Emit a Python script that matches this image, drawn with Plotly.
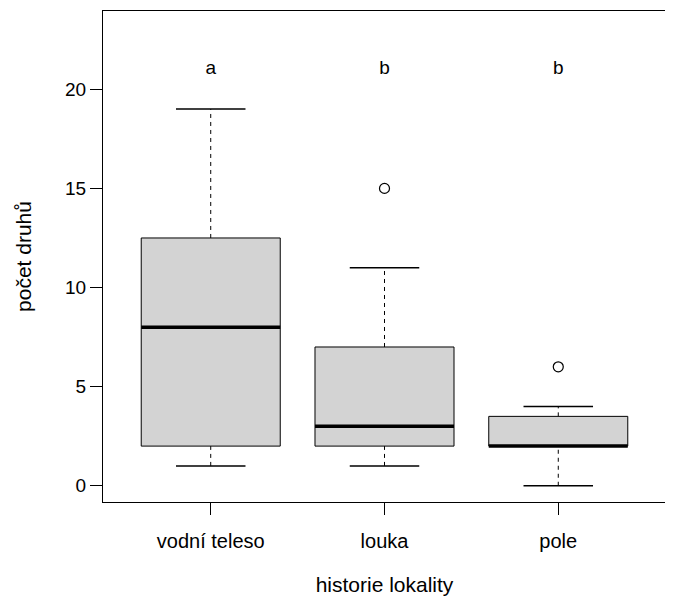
import plotly.graph_objects as go

categories = ["vodní teleso", "louka", "pole"]
lower_whisker = [1, 1, 0]
q1 = [2, 2, 2]
median = [8, 3, 2]
q3 = [12.5, 7, 3.5]
upper_whisker = [19, 11, 4]
outlier_group = [2, 3]
outlier_value = [15, 6]
letters = ["a", "b", "b"]
letter_y = [21, 21, 21]

BOX_HALF = 0.4
CAP_HALF = 0.2
FONT = "Liberation Sans, Arial, sans-serif"

fig = go.Figure()
positions = [1, 2, 3]

for i, p in enumerate(positions):
    # dashed whiskers
    fig.add_trace(go.Scatter(x=[p, p, None, p, p],
                             y=[q3[i], upper_whisker[i], None, lower_whisker[i], q1[i]],
                             mode="lines", line=dict(color="black", width=1, dash="4px,4px"),
                             hoverinfo="skip", showlegend=False))
    # caps
    fig.add_trace(go.Scatter(x=[p - CAP_HALF, p + CAP_HALF, None, p - CAP_HALF, p + CAP_HALF],
                             y=[upper_whisker[i], upper_whisker[i], None, lower_whisker[i], lower_whisker[i]],
                             mode="lines", line=dict(color="black", width=1.5),
                             hoverinfo="skip", showlegend=False))
    # box
    fig.add_trace(go.Scatter(x=[p - BOX_HALF, p + BOX_HALF, p + BOX_HALF, p - BOX_HALF, p - BOX_HALF],
                             y=[q1[i], q1[i], q3[i], q3[i], q1[i]],
                             mode="lines", fill="toself", fillcolor="#D3D3D3",
                             line=dict(color="black", width=1),
                             hoverinfo="skip", showlegend=False))
    # median
    fig.add_trace(go.Scatter(x=[p - BOX_HALF, p + BOX_HALF], y=[median[i], median[i]],
                             mode="lines", line=dict(color="black", width=3.5),
                             hoverinfo="skip", showlegend=False))

fig.add_trace(go.Scatter(x=outlier_group, y=outlier_value, mode="markers",
                         marker=dict(symbol="circle-open", size=10, color="black", line=dict(width=1.2)),
                         hoverinfo="skip", showlegend=False))

fig.add_trace(go.Scatter(x=positions, y=letter_y, mode="text", text=letters,
                         textfont=dict(family=FONT, size=19, color="black"),
                         hoverinfo="skip", showlegend=False))

fig.update_layout(
    width=665, height=588,
    margin=dict(l=95, r=7, t=3, b=94),
    paper_bgcolor="white", plot_bgcolor="white",
    font=dict(family=FONT, size=19, color="black"),
    xaxis=dict(range=[0.38, 3.62], tickvals=positions, ticktext=categories,
               showgrid=False, zeroline=False, showline=True, mirror=True,
               linecolor="black", linewidth=1, ticks="outside", ticklen=12,
               tickcolor="black", tickfont=dict(size=20), ticklabelstandoff=9,
               title=dict(text="historie lokality", standoff=26, font=dict(size=21))),
    yaxis=dict(range=[-0.82, 23.95], tickvals=[0, 5, 10, 15, 20],
               showgrid=False, zeroline=False, showline=True, mirror=True,
               linecolor="black", linewidth=1, ticks="outside", ticklen=12,
               tickcolor="black", tickfont=dict(size=19), ticklabelstandoff=0,
               title=dict(text="počet druhů", standoff=27, font=dict(size=21))),
)

fig.write_html("out.html")
